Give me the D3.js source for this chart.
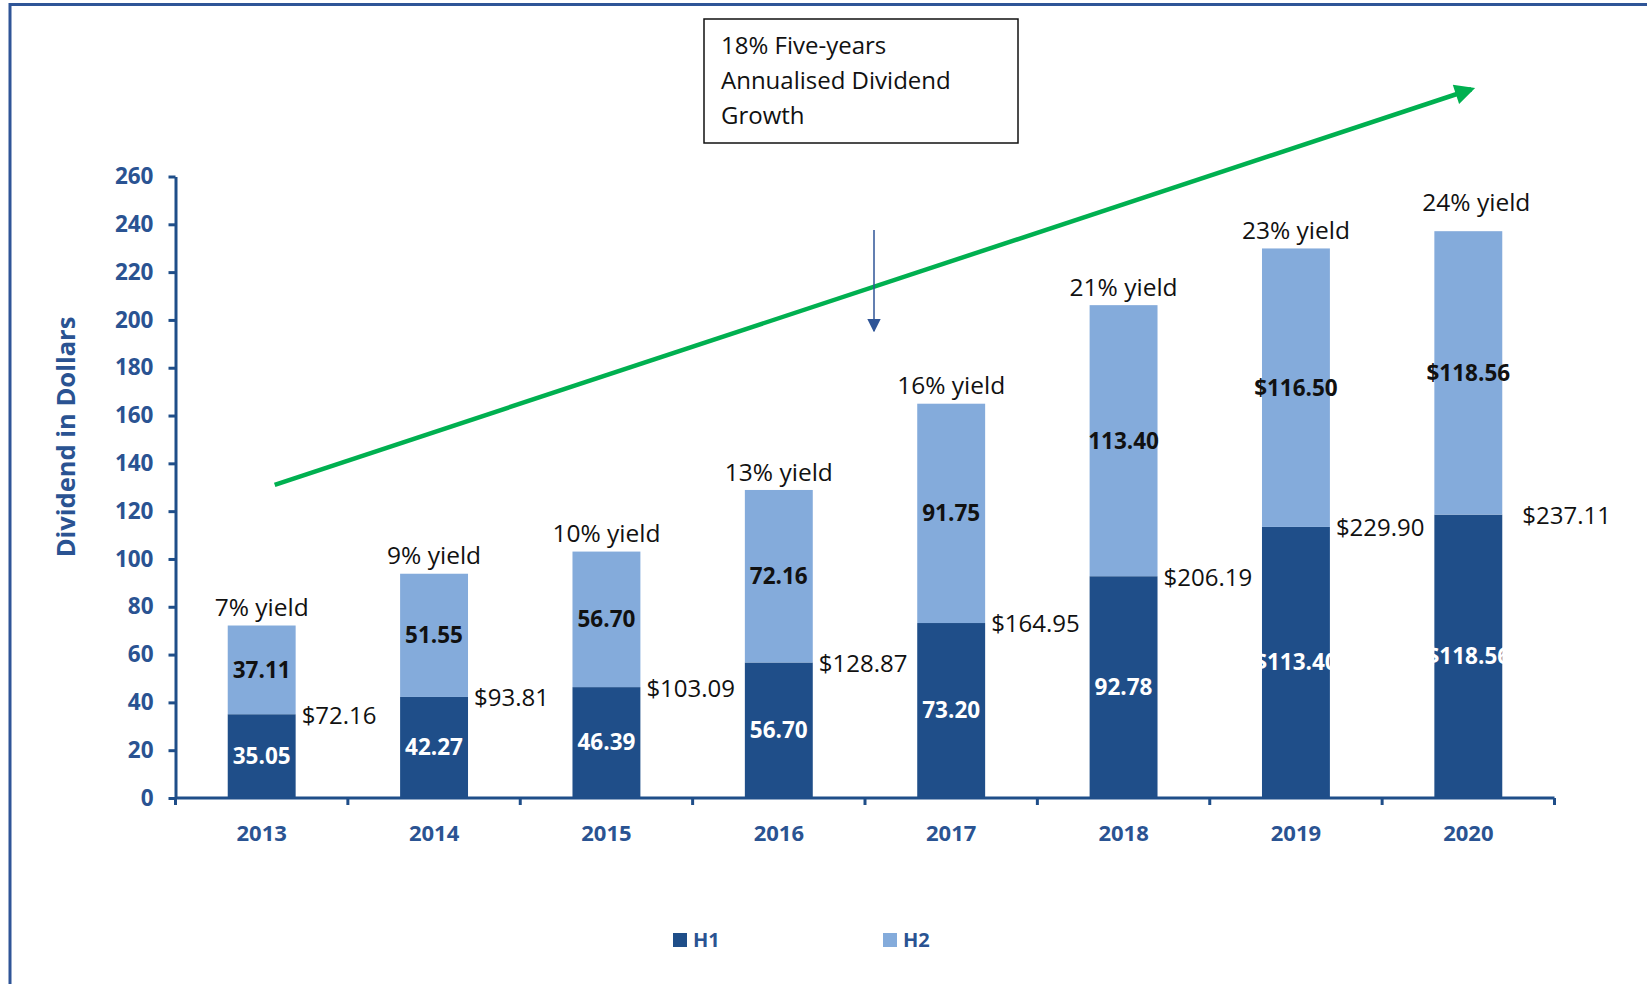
<!DOCTYPE html>
<html>
<head>
<meta charset="utf-8">
<script src="https://cdnjs.cloudflare.com/ajax/libs/d3/7.8.5/d3.min.js"></script>
<style>
  body { margin: 0; background: #fff; }
  svg { display: block; font-family: "Open Sans", sans-serif; }
</style>
</head>
<body>
<div class="chart"></div>
<script>
var years = ['2013', '2014', '2015', '2016', '2017', '2018', '2019', '2020'];
var h1 = [35.05, 42.27, 46.39, 56.70, 73.20, 92.78, 113.40, 118.56];
var h2 = [37.11, 51.55, 56.70, 72.16, 91.75, 113.40, 116.50, 118.56];
var h1Labels = ['35.05', '42.27', '46.39', '56.70', '73.20', '92.78', '$113.40', '$118.56'];
var h2Labels = ['37.11', '51.55', '56.70', '72.16', '91.75', '113.40', '$116.50', '$118.56'];
var totalLabels = ['$72.16', '$93.81', '$103.09', '$128.87', '$164.95', '$206.19', '$229.90', '$237.11'];
var yields = ['7% yield', '9% yield', '10% yield', '13% yield', '16% yield', '21% yield', '23% yield', '24% yield'];
var yTicks = [0, 20, 40, 60, 80, 100, 120, 140, 160, 180, 200, 220, 240, 260];
var seriesNames = ['H1', 'H2'];
var noteLines = ['18% Five-years', 'Annualised Dividend', 'Growth'];

var darkblue = '#1f4e89';
var lightblue = '#84abdb';
var axisblue = '#1f4e89';
var textblue = '#2a5392';
var green = '#00b050';

var width = 1647;
var height = 984;

var svg = d3.select('.chart')
  .append('svg')
  .attr('width', width)
  .attr('height', height);

/// frame (top and left edges visible)
svg.append('path')
  .attr('d', 'M10,984 L10,4.5 L1647,4.5')
  .attr('fill', 'none')
  .attr('stroke', '#2f5597')
  .attr('stroke-width', 3);

/// scales
var x = d3.scaleBand()
  .domain(years)
  .range([175.5, 1554.5])
  .paddingInner(0.606)
  .paddingOuter(0.303);

var cell = d3.scaleBand()
  .domain(years)
  .range([175.5, 1554.5])
  .padding(0);

var y = d3.scaleLinear()
  .domain([0, 260])
  .range([798, 176.5]);

/// stacked bars
var data = years.map(function(d, i) {
  return {year: d, h1: h1[i], h2: h2[i], i: i};
});

var stack = d3.stack().keys(['h1', 'h2']);
var layers = stack(data);
var colors = [darkblue, lightblue];

var layerG = svg.selectAll('.layer')
  .data(layers)
  .enter().append('g')
  .attr('class', 'layer')
  .attr('fill', function(d, i) { return colors[i]; });

layerG.selectAll('rect')
  .data(function(d) { return d; })
  .enter().append('rect')
  .attr('x', function(d) { return x(d.data.year); })
  .attr('y', function(d) { return y(d[1]); })
  .attr('width', x.bandwidth())
  .attr('height', function(d) { return y(d[0]) - y(d[1]); });

/// segment labels
var segLabels = [h1Labels, h2Labels];
var segColors = ['#ffffff', '#111111'];

layerG.each(function(layer, li) {
  d3.select(this).selectAll('text')
    .data(layer)
    .enter().append('text')
    .attr('x', function(d) { return x(d.data.year) + x.bandwidth() / 2; })
    .attr('y', function(d) { return (y(d[0]) + y(d[1])) / 2; })
    .attr('dy', '0.35em')
    .attr('text-anchor', 'middle')
    .attr('font-size', '22.5px')
    .attr('font-weight', 'bold')
    .attr('fill', segColors[li])
    .text(function(d) { return segLabels[li][d.data.i]; });
});

/// total labels next to bars
svg.selectAll('.total')
  .data(data)
  .enter().append('text')
  .attr('class', 'total')
  .attr('x', function(d, i) { return x(d.year) + x.bandwidth() + (i === years.length - 1 ? 20 : 6); })
  .attr('y', function(d) { return y(d.h1) + 1; })
  .attr('dy', '0.35em')
  .attr('font-size', '24px')
  .attr('fill', '#111')
  .text(function(d, i) { return totalLabels[i]; });

/// yield labels above bars (the last one sits a little higher in the original)
svg.selectAll('.yield')
  .data(data)
  .enter().append('text')
  .attr('class', 'yield')
  .attr('x', function(d, i) { return x(d.year) + x.bandwidth() / 2 + (i === years.length - 1 ? 8 : 0); })
  .attr('y', function(d, i) { return y(d.h1 + d.h2) - (i === years.length - 1 ? 29 : 18); })
  .attr('dy', '0.35em')
  .attr('text-anchor', 'middle')
  .attr('font-size', '24.5px')
  .attr('fill', '#111')
  .text(function(d, i) { return yields[i]; });

/// y axis
var yAxis = svg.append('g')
  .attr('transform', 'translate(175.5,0)')
  .call(d3.axisLeft(y).tickValues(yTicks).tickSize(7).tickPadding(15).tickSizeOuter(0));

yAxis.select('.domain')
  .attr('stroke', axisblue)
  .attr('stroke-width', 3);
yAxis.selectAll('.tick line')
  .attr('stroke', axisblue)
  .attr('stroke-width', 3);
yAxis.selectAll('.tick text')
  .attr('fill', textblue)
  .attr('font-size', '22.5px')
  .attr('font-weight', 'bold')
  .attr('font-family', '"Open Sans", sans-serif');

/// x axis
var xAxis = svg.append('g')
  .attr('transform', 'translate(0,798)');

xAxis.append('line')
  .attr('x1', 175.5)
  .attr('x2', 1554.5)
  .attr('stroke', axisblue)
  .attr('stroke-width', 3);

var bounds = years.map(function(d) { return cell(d); }).concat([cell(years[years.length - 1]) + cell.bandwidth()]);

xAxis.selectAll('.xtick')
  .data(bounds)
  .enter().append('line')
  .attr('class', 'xtick')
  .attr('x1', function(d) { return d; })
  .attr('x2', function(d) { return d; })
  .attr('y1', 0)
  .attr('y2', 7)
  .attr('stroke', axisblue)
  .attr('stroke-width', 3);

xAxis.selectAll('.xlabel')
  .data(years)
  .enter().append('text')
  .attr('class', 'xlabel')
  .attr('x', function(d) { return x(d) + x.bandwidth() / 2; })
  .attr('y', 35)
  .attr('dy', '0.35em')
  .attr('text-anchor', 'middle')
  .attr('font-size', '22px')
  .attr('font-weight', 'bold')
  .attr('fill', textblue)
  .text(function(d) { return d; });

/// y axis title
svg.append('text')
  .attr('transform', 'translate(66,437) rotate(-90)')
  .attr('text-anchor', 'middle')
  .attr('dy', '0.35em')
  .attr('font-size', '25.5px')
  .attr('font-weight', 'bold')
  .attr('fill', textblue)
  .text('Dividend in Dollars');

/// legend
var legend = svg.selectAll('.legend')
  .data(seriesNames)
  .enter().append('g')
  .attr('class', 'legend')
  .attr('transform', function(d, i) { return 'translate(' + (673 + i * 210) + ',933)'; });

legend.append('rect')
  .attr('width', 14)
  .attr('height', 14)
  .attr('fill', function(d, i) { return colors[i]; });

legend.append('text')
  .attr('x', 20)
  .attr('y', 7)
  .attr('dy', '0.35em')
  .attr('font-size', '20px')
  .attr('font-weight', 'bold')
  .attr('fill', textblue)
  .text(function(d) { return d; });

/// arrow markers
var defs = svg.append('defs');
defs.append('marker')
  .attr('id', 'greenhead')
  .attr('viewBox', '0 0 10 10')
  .attr('refX', 8)
  .attr('refY', 5)
  .attr('markerWidth', 5)
  .attr('markerHeight', 4.5)
  .attr('markerUnits', 'strokeWidth')
  .attr('orient', 'auto')
  .append('path')
  .attr('d', 'M0,0 L10,5 L0,10 z')
  .attr('fill', green);

defs.append('marker')
  .attr('id', 'bluehead')
  .attr('viewBox', '0 0 10 10')
  .attr('refX', 9)
  .attr('refY', 5)
  .attr('markerWidth', 9)
  .attr('markerHeight', 9)
  .attr('markerUnits', 'strokeWidth')
  .attr('orient', 'auto')
  .append('path')
  .attr('d', 'M0,0 L10,5 L0,10 z')
  .attr('fill', '#2f5597');

/// green growth arrow
svg.append('line')
  .attr('x1', x('2013') + x.bandwidth() / 2 + 13)
  .attr('y1', y(131))
  .attr('x2', x('2020') + x.bandwidth() / 2 + 3)
  .attr('y2', y(296.5))
  .attr('stroke', green)
  .attr('stroke-width', 4.5)
  .attr('marker-end', 'url(#greenhead)');

/// small blue pointer
svg.append('line')
  .attr('x1', 874)
  .attr('y1', 230)
  .attr('x2', 874)
  .attr('y2', 331)
  .attr('stroke', '#2f5597')
  .attr('stroke-width', 1.5)
  .attr('marker-end', 'url(#bluehead)');

/// note box
svg.append('rect')
  .attr('x', 704)
  .attr('y', 19)
  .attr('width', 314)
  .attr('height', 124)
  .attr('fill', '#fff')
  .attr('stroke', '#111')
  .attr('stroke-width', 1.5);

svg.selectAll('.note')
  .data(noteLines)
  .enter().append('text')
  .attr('class', 'note')
  .attr('x', 721)
  .attr('y', function(d, i) { return 46 + i * 34.7; })
  .attr('dy', '0.35em')
  .attr('font-size', '24px')
  .attr('fill', '#111')
  .text(function(d) { return d; });
</script>
</body>
</html>
